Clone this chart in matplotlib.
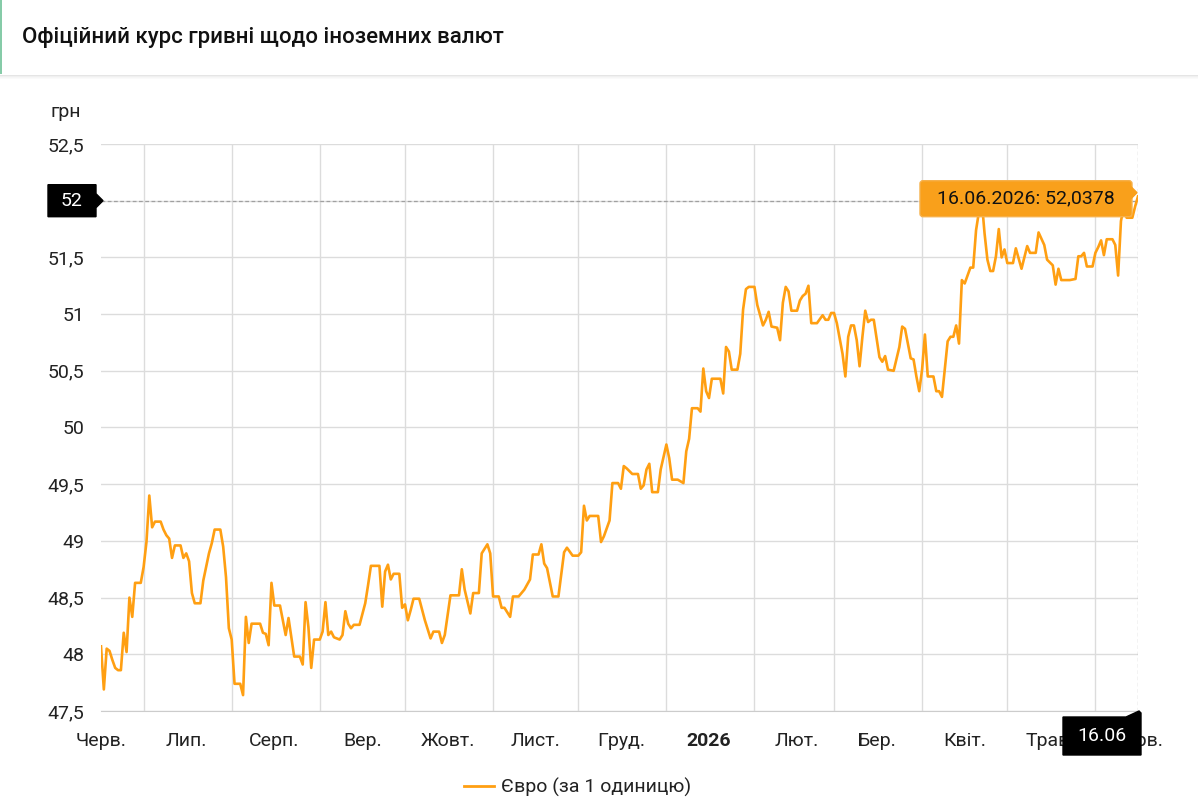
import numpy as np
import pandas as pd
import matplotlib
matplotlib.use('Agg')
import matplotlib.pyplot as plt
from matplotlib.patches import Polygon, Rectangle, FancyBboxPatch
from matplotlib.transforms import IdentityTransform

plt.rcParams['font.family'] = ['Roboto', 'DejaVu Sans']

# EUR/UAH official rate, days counted from 16.06.2025
start = pd.Timestamp('2025-06-16')
day = [0, 1, 2, 3, 4, 5, 6, 7, 8, 9, 10, 11, 12, 14, 15, 16, 17, 18, 19, 21,
       22, 23, 24, 25, 26, 28, 29, 30, 31, 32, 33, 35, 36, 37, 38, 39, 40, 42, 43, 44,
       45, 46, 47, 49, 50, 51, 52, 53, 56, 57, 58, 59, 60, 61, 63, 64, 65, 66, 67, 68,
       70, 71, 72, 73, 74, 75, 77, 78, 79, 80, 81, 82, 84, 85, 86, 87, 88, 89, 91, 93,
       94, 95, 98, 99, 100, 101, 102, 103, 105, 106, 107, 108, 109, 110, 112, 114, 116, 117, 119, 120,
       121, 123, 126, 127, 128, 130, 131, 133, 134, 136, 137, 138, 140, 141, 142, 144, 145, 147, 149, 151,
       152, 154, 155, 156, 157, 159, 161, 163, 164, 166, 168, 169, 170, 171, 172, 175, 176, 177, 179, 180,
       182, 183, 184, 185, 187, 189, 190, 191, 192, 193, 194, 196, 197, 199, 200, 201, 203, 205, 206, 207,
       208, 210, 211, 212, 213, 214, 215, 218, 219, 220, 221, 222, 224, 225, 226, 227, 228, 230, 231, 233,
       234, 235, 236, 238, 239, 240, 241, 242, 243, 245, 246, 247, 248, 249, 250, 252, 254, 255, 256, 257,
       258, 259, 261, 262, 263, 264, 265, 266, 267, 268, 269, 270, 271, 272, 274, 275, 276, 277, 279, 281,
       282, 283, 285, 286, 287, 288, 289, 290, 291, 293, 294, 295, 296, 298, 299, 300, 301, 302, 303, 304,
       306, 307, 308, 309, 310, 311, 312, 313, 314, 315, 316, 317, 318, 319, 321, 322, 324, 326, 327, 329,
       330, 332, 333, 335, 336, 337, 338, 341, 343, 344, 345, 346, 347, 349, 350, 351, 352, 353, 354, 356,
       357, 358, 359, 360, 361, 363, 364, 365]
eur = [48.07, 47.69, 48.05, 48.03, 47.95, 47.88, 47.86, 47.86, 48.19, 48.02, 48.50, 48.33, 48.63, 48.63, 48.77, 48.99, 49.40, 49.12, 49.17, 49.17,
       49.10, 49.05, 49.02, 48.85, 48.96, 48.96, 48.85, 48.89, 48.82, 48.54, 48.45, 48.45, 48.65, 48.77, 48.89, 48.98, 49.10, 49.10, 48.95, 48.68,
       48.23, 48.13, 47.74, 47.74, 47.64, 48.33, 48.10, 48.27, 48.27, 48.19, 48.18, 48.08, 48.63, 48.43, 48.43, 48.30, 48.17, 48.32, 48.15, 47.98,
       47.98, 47.91, 48.46, 48.24, 47.88, 48.13, 48.13, 48.20, 48.46, 48.17, 48.20, 48.15, 48.13, 48.17, 48.38, 48.27, 48.23, 48.26, 48.26, 48.45,
       48.61, 48.78, 48.78, 48.42, 48.73, 48.79, 48.66, 48.71, 48.71, 48.41, 48.44, 48.30, 48.39, 48.49, 48.49, 48.30, 48.14, 48.20, 48.20, 48.10,
       48.17, 48.52, 48.52, 48.75, 48.57, 48.36, 48.54, 48.54, 48.89, 48.97, 48.89, 48.51, 48.51, 48.41, 48.41, 48.33, 48.51, 48.51, 48.57, 48.66,
       48.88, 48.88, 48.97, 48.80, 48.76, 48.51, 48.51, 48.90, 48.94, 48.87, 48.87, 48.90, 49.31, 49.18, 49.22, 49.22, 48.99, 49.04, 49.18, 49.51,
       49.51, 49.46, 49.66, 49.64, 49.59, 49.59, 49.46, 49.49, 49.63, 49.68, 49.43, 49.43, 49.63, 49.85, 49.73, 49.54, 49.54, 49.51, 49.79, 49.90,
       50.17, 50.17, 50.14, 50.52, 50.32, 50.26, 50.43, 50.43, 50.30, 50.71, 50.67, 50.51, 50.51, 50.65, 51.04, 51.22, 51.24, 51.24, 51.08, 50.90,
       50.95, 51.02, 50.89, 50.88, 50.77, 51.10, 51.24, 51.20, 51.03, 51.03, 51.12, 51.16, 51.18, 51.25, 50.92, 50.92, 50.99, 50.95, 50.95, 51.01,
       51.01, 50.92, 50.65, 50.45, 50.80, 50.90, 50.90, 50.77, 50.54, 50.80, 51.03, 50.93, 50.95, 50.95, 50.62, 50.58, 50.63, 50.51, 50.50, 50.71,
       50.89, 50.87, 50.61, 50.60, 50.45, 50.32, 50.51, 50.82, 50.45, 50.45, 50.32, 50.32, 50.27, 50.76, 50.80, 50.80, 50.90, 50.74, 51.30, 51.27,
       51.41, 51.41, 51.74, 51.90, 52.00, 51.71, 51.48, 51.38, 51.38, 51.51, 51.75, 51.50, 51.57, 51.45, 51.45, 51.58, 51.40, 51.60, 51.54, 51.54,
       51.72, 51.61, 51.48, 51.43, 51.26, 51.40, 51.30, 51.30, 51.31, 51.51, 51.51, 51.54, 51.42, 51.42, 51.54, 51.59, 51.65, 51.52, 51.66, 51.66,
       51.61, 51.34, 51.82, 51.95, 51.85, 51.85, 51.95, 52.0378]
dates = start + pd.to_timedelta(day, unit='D')

month_labels = ['Черв.', 'Лип.', 'Серп.', 'Вер.', 'Жовт.', 'Лист.', 'Груд.', '2026',
                'Лют.', 'Бер.', 'Квіт.', 'Трав.', 'Черв.']
label_dates = pd.DatetimeIndex([start] + list(pd.date_range('2025-07-01', periods=12, freq='MS')
                                              + pd.Timedelta(days=15)))
month_starts = pd.date_range('2025-07-01', '2026-06-01', freq='MS')
y_ticks = [47.5, 48, 48.5, 49, 49.5, 50, 50.5, 51, 51.5, 52, 52.5]
y_labels = ['47,5', '48', '48,5', '49', '49,5', '50', '50,5', '51', '51,5', '', '52,5']

tip_date = '16.06.2026'
tip_value = 52.0378
cross_y = 52.0

W, H = 1198, 807
orange = '#FF9F12'
fig = plt.figure(figsize=(W / 100, H / 100), dpi=100)
fig.patch.set_facecolor('white')

# header with shadow
for i, a in enumerate([0.10, 0.06, 0.035, 0.02]):
    fig.patches.append(Rectangle((0, H - 76 - i), W, 1, transform=IdentityTransform(),
                                 color='black', alpha=a, lw=0))
fig.patches.append(Rectangle((0, H - 74), 2, 74, transform=IdentityTransform(),
                             color='#86CBA8', lw=0))
fig.text(22 / W, 1 - 37 / H, 'Офіційний курс гривні щодо іноземних валют',
         fontsize=16, fontweight='medium', color='#111111', va='center', ha='left')

ax = fig.add_axes([101 / W, 96 / H, 1037 / W, 567 / H])
ax.plot(dates, eur, color=orange, lw=1.9, solid_joinstyle='round', zorder=3)

ax.set_yticks(y_ticks)
ax.set_yticklabels(y_labels)
ax.set_xticks(month_starts)
ax.set_xticklabels([])
ax.set_xticks(label_dates, labels=month_labels, minor=True)
ax.set_xlim(start, start + pd.Timedelta(days=365))
ax.set_ylim(47.5, 52.5)
ax.tick_params(axis='x', which='both', length=0)
ax.tick_params(axis='x', which='minor', pad=15, labelsize=14, labelcolor='#222222')
ax.tick_params(axis='y', length=0, pad=12, labelsize=14, labelcolor='#222222')
for lbl in ax.get_xticklabels(minor=True):
    if lbl.get_text() == '2026':
        lbl.set_fontweight('bold')
ax.grid(True, which='major', color='#DCDCDC', lw=1)
for s in ['top', 'right', 'left']:
    ax.spines[s].set_visible(False)
ax.spines['bottom'].set_color('#CCCCCC')

# crosshair on the last point
last_date = dates[-1]
ax.axhline(cross_y, color='#A0A0A0', lw=0.9, ls=(0, (3, 2)), zorder=2)
ax.axvline(last_date, color='#A0A0A0', lw=0.9, ls=(0, (3, 2)), zorder=2)

fig.canvas.draw()
vx, vy = ax.transData.transform((matplotlib.dates.date2num(last_date), cross_y))
bb = ax.get_window_extent()

# y value label
lx = bb.x0
ypoly = [(lx - 53, vy + 16), (lx - 5, vy + 16), (lx - 5, vy + 7), (lx + 2, vy), (lx - 5, vy - 7),
         (lx - 5, vy - 16), (lx - 53, vy - 16)]
fig.patches.append(Polygon(ypoly, closed=True, transform=IdentityTransform(), color='black', zorder=5))
fig.text(lx - 29, vy, '52', transform=IdentityTransform(), color='white', fontsize=14,
         ha='center', va='center', zorder=6)

# x value label
by = bb.y0
xpoly = [(vx - 75, by - 6), (vx - 12, by - 6), (vx + 1, by), (vx + 3, by - 2), (vx + 3, by - 44), (vx - 75, by - 44)]
fig.patches.append(Polygon(xpoly, closed=True, transform=IdentityTransform(), color='black', zorder=5))
fig.text(vx - 36, by - 25, '16.06', transform=IdentityTransform(), color='white', fontsize=14,
         ha='center', va='center', zorder=6)

# tooltip
tb = FancyBboxPatch((vx - 218, vy - 16), 212, 36, boxstyle='round,pad=0,rounding_size=3',
                    transform=IdentityTransform(), fc='#F9A01B', ec='#F6B04A', lw=1, zorder=5)
fig.patches.append(tb)
fig.patches.append(Polygon([(vx - 7, vy + 14), (vx - 1, vy + 8), (vx - 7, vy + 2)], closed=True,
                           transform=IdentityTransform(), color='#F9A01B', zorder=5))
tip_text = tip_date + ': ' + f'{tip_value:.4f}'.replace('.', ',')
fig.text(vx - 112, vy + 2, tip_text, transform=IdentityTransform(), color='#111111',
         fontsize=14, ha='center', va='center', zorder=6)

fig.text(50 / W, 1 - 112 / H, 'грн', fontsize=14, color='#222222', ha='left', va='center')

# legend
leg = fig.legend([plt.Line2D([], [], color=orange, lw=2)], ['Євро (за 1 одиницю)'],
                 loc='center', bbox_to_anchor=(578 / W, 1 - 787 / H), frameon=False,
                 fontsize=14, handlelength=1.5, handletextpad=0.4)
for t in leg.get_texts():
    t.set_color('#222222')

fig.savefig('out.png', dpi=100)
